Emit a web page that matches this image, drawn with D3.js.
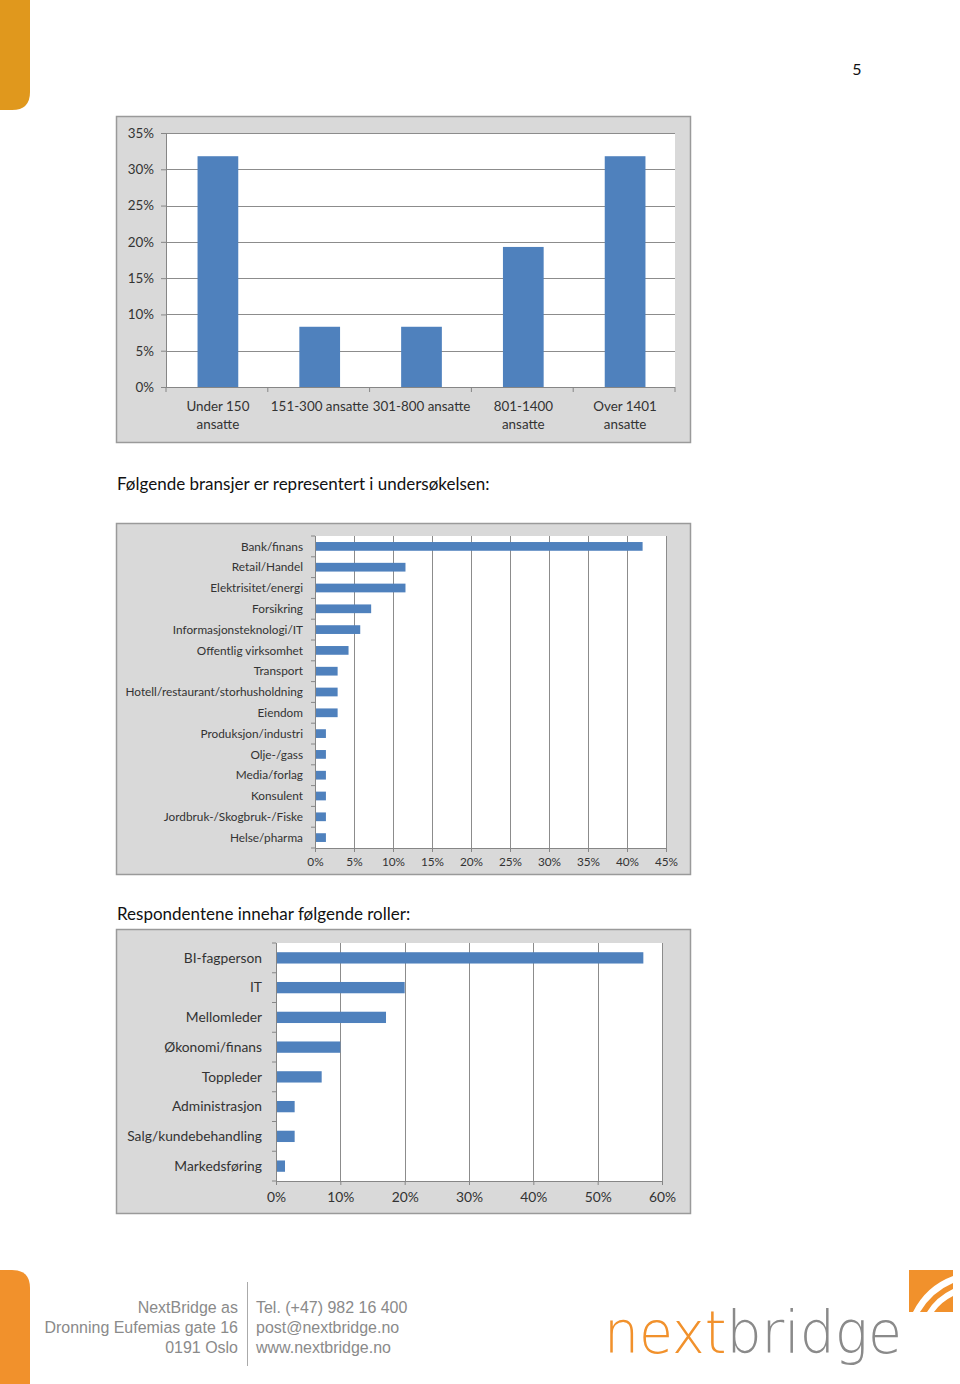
<!DOCTYPE html>
<html><head><meta charset="utf-8">
<script src="https://cdn.jsdelivr.net/npm/d3@7"></script>
<style>
html,body{margin:0;padding:0;background:#fff;}
svg{display:block;}
</style></head>
<body>
<svg id="page" width="960" height="1384"></svg>
<script>
// ---------- DATA ----------
const sizeCategories = [["Under 150","ansatte"],["151-300 ansatte"],["301-800 ansatte"],["801-1400","ansatte"],["Over 1401","ansatte"]];
const sizeValues = [31.8, 8.3, 8.3, 19.3, 31.8];
const sizeTicks = [0,5,10,15,20,25,30,35];

const industryCategories = ["Bank/finans","Retail/Handel","Elektrisitet/energi","Forsikring","Informasjonsteknologi/IT","Offentlig virksomhet","Transport","Hotell/restaurant/storhusholdning","Eiendom","Produksjon/industri","Olje-/gass","Media/forlag","Konsulent","Jordbruk-/Skogbruk-/Fiske","Helse/pharma"];
const industryValues = [42.0, 11.6, 11.6, 7.2, 5.8, 4.3, 2.9, 2.9, 2.9, 1.4, 1.4, 1.4, 1.4, 1.4, 1.4];
const industryTicks = [0,5,10,15,20,25,30,35,40,45];

const roleCategories = ["BI-fagperson","IT","Mellomleder","Økonomi/finans","Toppleder","Administrasjon","Salg/kundebehandling","Markedsføring"];
const roleValues = [57.1, 20.0, 17.1, 10.0, 7.1, 2.9, 2.9, 1.4];
const roleTicks = [0,10,20,30,40,50,60];

// ---------- STYLE ----------
const BAR = "#4f81bd", GRID = "#8c8c8c", AXIS = "#868686", BG = "#d9d9d9", BORDER = "#9a9a9a", TXT = "#333";
const FONT = "Lato, 'Open Sans', sans-serif";
const svg = d3.select("#page");

// page decorations
svg.append("path").attr("d","M0,0 H30 V92 Q30,110 12,110 H0 Z").attr("fill","#e0981d");
svg.append("path").attr("d","M0,1270 H12 Q30,1270 30,1288 V1384 H0 Z").attr("fill","#f1912c");
svg.append("text").attr("x",857).attr("y",75).attr("text-anchor","middle").attr("font-family",FONT).attr("font-size",16).attr("fill","#111").text("5");

// titles
svg.append("text").attr("x",117).attr("y",490).attr("font-family",FONT).attr("font-size",17).attr("fill","#111").text("Følgende bransjer er representert i undersøkelsen:");
svg.append("text").attr("x",117).attr("y",920).attr("font-family",FONT).attr("font-size",17).attr("fill","#111").text("Respondentene innehar følgende roller:");

function frame(x,y,w,h){
  svg.append("rect").attr("x",x+0.5).attr("y",y+0.5).attr("width",w).attr("height",h).attr("fill",BG).attr("stroke",BORDER).attr("stroke-width",1.5);
}

// ---------- CHART 1 ----------
(function(){
  frame(116,116,574,326);
  const L=166,R=675,T=133,B=387;
  const x = d3.scaleBand().domain(d3.range(sizeCategories.length)).range([L,R]).paddingInner(0.6).paddingOuter(0.3);
  const y = d3.scaleLinear().domain([0,35]).range([B,T]);
  const g = svg.append("g");
  g.append("rect").attr("x",L).attr("y",T).attr("width",R-L).attr("height",B-T).attr("fill","#fff");
  g.selectAll("line.grid").data(sizeTicks.slice(1)).join("line").attr("x1",L).attr("x2",R)
    .attr("y1",d=>Math.round(y(d))+0.5).attr("y2",d=>Math.round(y(d))+0.5).attr("stroke",GRID).attr("stroke-width",1);
  g.selectAll("rect.bar").data(sizeValues).join("rect").attr("x",(d,i)=>x(i)+1).attr("width",x.bandwidth())
    .attr("y",d=>y(d)).attr("height",d=>B-y(d)).attr("fill",BAR);
  const ya = g.append("g").attr("transform",`translate(${L},0)`).call(d3.axisLeft(y).tickValues(sizeTicks).tickFormat(d=>d+"%").tickSize(5).tickPadding(7));
  ya.select(".domain").attr("stroke",AXIS);
  ya.selectAll(".tick line").attr("stroke",AXIS);
  ya.selectAll("text").attr("font-family",FONT).attr("font-size",13.4).attr("fill",TXT);
  const step = (R-L)/sizeCategories.length;
  g.append("line").attr("x1",L).attr("x2",R).attr("y1",B+0.5).attr("y2",B+0.5).attr("stroke",AXIS);
  g.selectAll("line.xt").data(d3.range(sizeCategories.length+1)).join("line").attr("x1",i=>L+i*step).attr("x2",i=>L+i*step)
    .attr("y1",B).attr("y2",B+5).attr("stroke",AXIS);
  sizeCategories.forEach((lines,i)=>{
    const t = g.append("text").attr("text-anchor","middle").attr("font-family",FONT).attr("font-size",13.4).attr("fill",TXT);
    lines.forEach((s,k)=>t.append("tspan").attr("x",x(i)+x.bandwidth()/2+1).attr("y",411+k*18).text(s));
  });
})();

// ---------- horizontal bar chart helper ----------
function hbar(cfg){
  frame(cfg.bx,cfg.by,cfg.bw,cfg.bh);
  const {L,R,T,B} = cfg;
  const x = d3.scaleLinear().domain([0,cfg.max]).range([L,R]);
  const y = d3.scaleBand().domain(cfg.cats).range([T,B]).paddingInner(cfg.pad).paddingOuter(cfg.pad/2);
  const g = svg.append("g");
  g.append("rect").attr("x",L).attr("y",T).attr("width",R-L).attr("height",B-T).attr("fill","#fff");
  g.selectAll("line.grid").data(cfg.ticks.slice(1)).join("line").attr("y1",T).attr("y2",B)
    .attr("x1",d=>Math.round(x(d))+0.5).attr("x2",d=>Math.round(x(d))+0.5).attr("stroke",GRID);
  g.selectAll("rect.bar").data(cfg.vals).join("rect").attr("x",L).attr("y",(d,i)=>y(cfg.cats[i]))
    .attr("height",y.bandwidth()).attr("width",d=>x(d)-L).attr("fill",BAR);
  const step=(B-T)/cfg.cats.length;
  g.append("line").attr("x1",L+0.5).attr("x2",L+0.5).attr("y1",T).attr("y2",B).attr("stroke",AXIS);
  g.selectAll("line.yt").data(d3.range(cfg.cats.length+1)).join("line").attr("x1",L-4).attr("x2",L)
    .attr("y1",i=>T+i*step).attr("y2",i=>T+i*step).attr("stroke",AXIS);
  g.selectAll("text.cat").data(cfg.cats).join("text").attr("x",cfg.labelX).attr("y",d=>y(d)+y.bandwidth()/2)
    .attr("dy","0.35em").attr("text-anchor","end").attr("font-family",FONT).attr("font-size",cfg.fs).attr("fill",TXT).text(d=>d);
  const xa = g.append("g").attr("transform",`translate(0,${B})`).call(d3.axisBottom(x).tickValues(cfg.ticks).tickFormat(d=>d+"%").tickSize(4).tickPadding(cfg.tp));
  xa.select(".domain").attr("stroke",AXIS);
  xa.selectAll(".tick line").attr("stroke",AXIS);
  xa.selectAll("text").attr("font-family",FONT).attr("font-size",cfg.fs).attr("fill",TXT);
}

hbar({bx:116,by:523,bw:574,bh:351,L:315,R:666,T:536,B:848,max:45,pad:0.58,
  cats:industryCategories,vals:industryValues,ticks:industryTicks,labelX:303,fs:11.8,tp:6});
hbar({bx:116,by:929,bw:574,bh:284,L:276,R:662,T:943,B:1181,max:60,pad:0.62,
  cats:roleCategories,vals:roleValues,ticks:roleTicks,labelX:262,fs:13.8,tp:7});

// ---------- FOOTER ----------
const FF = "'Liberation Sans',Arial,sans-serif";
const left = ["NextBridge as","Dronning Eufemias gate 16","0191 Oslo"];
const right = ["Tel. (+47) 982 16 400","post@nextbridge.no","www.nextbridge.no"];
const gl = svg.append("g").attr("transform","translate(238,0) scale(0.94,1)");
left.forEach((s,i)=>gl.append("text").attr("x",0).attr("y",1313+i*20).attr("text-anchor","end").attr("font-family",FF).attr("font-size",17).attr("fill","#8a8a8a").text(s));
const gr = svg.append("g").attr("transform","translate(256,0) scale(0.94,1)");
right.forEach((s,i)=>gr.append("text").attr("x",0).attr("y",1313+i*20).attr("font-family",FF).attr("font-size",17).attr("fill","#8a8a8a").text(s));
svg.append("line").attr("x1",247.5).attr("x2",247.5).attr("y1",1282).attr("y2",1366).attr("stroke","#aaa");

// logo
const logo = svg.append("text").attr("x",604).attr("y",1353).attr("font-family","'DejaVu Sans',sans-serif").attr("font-weight",200)
  .attr("font-size",58).attr("textLength",298).attr("lengthAdjust","spacingAndGlyphs");
logo.append("tspan").attr("fill","#f1912c").text("next");
logo.append("tspan").attr("fill","#8a8a8a").text("bridge");
svg.append("rect").attr("x",909).attr("y",1270).attr("width",44).attr("height",42).attr("fill","#f1912c");
svg.append("path").attr("d","M913,1312 Q926,1286 953,1276 L953,1283 Q932,1292 920,1312 Z").attr("fill","#fff");
svg.append("path").attr("d","M927,1312 Q936,1297 953,1289 L953,1296 Q941,1302 934,1312 Z").attr("fill","#fff");
</script>
</body></html>
